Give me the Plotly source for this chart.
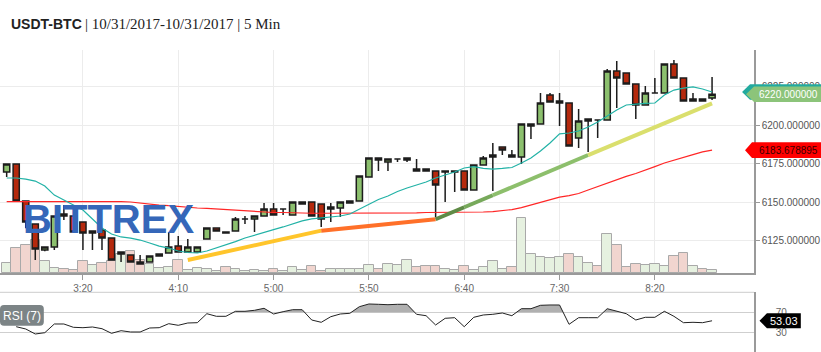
import plotly.graph_objects as go
import pandas as pd

DAY = "2017-10-31"
times = ["02:40", "02:45", "02:50", "02:55",
         "03:00", "03:05", "03:10", "03:15", "03:20", "03:25", "03:30", "03:35", "03:40", "03:45", "03:50", "03:55",
         "04:00", "04:05", "04:10", "04:15", "04:20", "04:25", "04:30", "04:35", "04:40", "04:45", "04:50", "04:55",
         "05:00", "05:05", "05:10", "05:15", "05:20", "05:25", "05:30", "05:35", "05:40", "05:45", "05:50", "05:55",
         "06:00", "06:05", "06:10", "06:15", "06:20", "06:25", "06:30", "06:35", "06:40", "06:45", "06:50", "06:55",
         "07:00", "07:05", "07:10", "07:15", "07:20", "07:25", "07:30", "07:35", "07:40", "07:45", "07:50", "07:55",
         "08:00", "08:05", "08:10", "08:15", "08:20", "08:25", "08:30", "08:35", "08:40", "08:45", "08:50"]
tick_times = ["03:20", "04:10", "05:00", "05:50", "06:40", "07:30", "08:20"]
tick_labels = ["3:20", "4:10", "5:00", "5:50", "6:40", "7:30", "8:20"]

opens = [6169.5, 6174.7, 6150.6, 6135.7, 6118.8, 6120.8, 6142.2, 6140.9, 6137.0, 6129.9,
         6131.8, 6126.6, 6117.5, 6115.6, 6111.0, 6111.0, 6114.9, 6116.9, 6121.4, 6117.5,
         6117.5, 6126.0, 6133.1, 6130.5, 6131.2, 6139.0, 6139.0, 6140.9, 6145.4, 6145.4,
         6141.6, 6148.7, 6150.0, 6148.7, 6146.7, 6146.1, 6149.3, 6150.6, 6166.2, 6178.6,
         6176.0, 6177.9, 6177.3, 6170.1, 6171.4, 6170.1, 6170.1, 6169.5, 6170.1, 6157.8,
         6174.0, 6179.2, 6185.7, 6180.5, 6179.2, 6199.4, 6200.6, 6219.5, 6215.6, 6214.3,
         6191.6, 6203.9, 6203.2, 6203.2, 6235.1, 6233.8, 6226.6, 6213.0, 6220.8, 6220.8,
         6239.6, 6230.5, 6215.6, 6216.9, 6217.5]
highs = [6174.7, 6175.0, 6150.6, 6135.7, 6120.8, 6140.9, 6148.0, 6140.9, 6137.0, 6131.2,
         6131.8, 6126.6, 6117.5, 6115.6, 6115.6, 6114.9, 6116.2, 6130.5, 6127.9, 6126.0,
         6120.8, 6133.1, 6133.1, 6130.5, 6140.3, 6140.9, 6140.9, 6149.3, 6149.3, 6145.4,
         6150.0, 6150.0, 6150.0, 6148.7, 6149.3, 6150.0, 6150.6, 6166.9, 6178.6, 6178.6,
         6177.9, 6177.9, 6178.6, 6177.9, 6171.4, 6170.1, 6170.1, 6170.1, 6170.1, 6174.0,
         6179.9, 6188.3, 6185.7, 6183.8, 6200.6, 6200.6, 6220.8, 6220.8, 6220.8, 6214.3,
         6210.4, 6203.9, 6203.2, 6236.4, 6241.6, 6233.8, 6226.6, 6225.3, 6230.5, 6239.6,
         6242.2, 6230.5, 6220.8, 6216.9, 6231.2]
lows = [6166.2, 6150.6, 6133.0, 6112.3, 6118.0, 6118.8, 6138.3, 6130.5, 6118.8, 6118.8,
        6118.8, 6112.3, 6111.0, 6111.0, 6109.7, 6111.0, 6114.9, 6116.9, 6117.5, 6117.5,
        6117.5, 6126.0, 6131.2, 6129.9, 6131.2, 6135.7, 6130.5, 6140.9, 6141.6, 6141.6,
        6141.6, 6148.7, 6140.9, 6133.8, 6137.0, 6140.3, 6149.3, 6150.6, 6166.2, 6170.1,
        6170.1, 6176.0, 6176.0, 6170.1, 6170.1, 6140.3, 6150.0, 6156.5, 6157.8, 6157.8,
        6174.0, 6157.1, 6180.5, 6179.2, 6174.7, 6190.9, 6200.6, 6214.9, 6199.4, 6186.4,
        6185.1, 6182.5, 6191.6, 6203.2, 6211.0, 6226.6, 6203.9, 6213.0, 6220.8, 6220.8,
        6230.5, 6215.6, 6215.6, 6215.6, 6216.2]
closes = [6174.7, 6150.6, 6137.0, 6119.5, 6120.8, 6140.9, 6140.9, 6130.5, 6129.9, 6131.2,
          6126.6, 6112.3, 6116.2, 6111.0, 6109.7, 6114.9, 6116.2, 6120.8, 6117.5, 6120.8,
          6120.8, 6133.1, 6131.2, 6129.9, 6139.0, 6139.0, 6140.9, 6145.4, 6141.6, 6145.4,
          6150.0, 6150.0, 6140.9, 6139.0, 6145.4, 6150.0, 6150.6, 6166.9, 6178.6, 6177.3,
          6177.9, 6177.9, 6178.6, 6171.4, 6170.1, 6161.0, 6169.5, 6170.1, 6157.8, 6174.0,
          6178.6, 6180.5, 6183.8, 6179.2, 6200.6, 6200.6, 6214.3, 6214.9, 6214.3, 6186.4,
          6202.6, 6202.6, 6203.2, 6235.1, 6230.5, 6226.6, 6213.0, 6220.8, 6220.8, 6239.6,
          6230.5, 6215.6, 6216.9, 6215.6, 6220.0]

ma_fast = [6165.6, 6165.6, 6164.9, 6163.6, 6160.4, 6154.5, 6151.3, 6148.0, 6144.8, 6139.0,
           6133.1, 6129.2, 6127.3, 6126.6, 6125.3, 6123.4, 6121.4, 6120.1, 6118.2, 6117.2,
           6116.9, 6118.2, 6120.1, 6122.1, 6124.3, 6126.6, 6128.6, 6130.5, 6132.1, 6133.8,
           6135.7, 6137.7, 6139.0, 6139.6, 6139.9, 6140.9, 6142.2, 6145.4, 6148.7, 6151.6,
           6153.9, 6156.8, 6159.1, 6161.0, 6163.0, 6165.6, 6167.5, 6169.5, 6172.1, 6173.0,
           6171.8, 6171.4, 6171.8, 6172.4, 6175.3, 6178.6, 6183.1, 6188.3, 6194.2, 6194.8,
           6196.1, 6198.7, 6201.9, 6205.8, 6209.7, 6213.0, 6213.6, 6214.0, 6214.3, 6219.5,
           6222.7, 6224.0, 6224.7, 6223.4, 6221.4]
ma_slow = [6150.3, 6150.3, 6150.5, 6150.5, 6150.6, 6150.6, 6150.6, 6150.6, 6150.6, 6150.6,
           6150.6, 6150.6, 6150.3, 6150.0, 6149.3, 6148.7, 6148.0, 6147.7, 6147.1, 6146.7,
           6146.1, 6145.8, 6145.4, 6145.1, 6144.8, 6144.1, 6143.8, 6143.5, 6143.2, 6143.2,
           6142.9, 6142.9, 6142.7, 6142.7, 6142.7, 6142.7, 6142.7, 6142.7, 6142.7, 6142.9,
           6142.9, 6142.9, 6142.9, 6143.0, 6143.2, 6143.2, 6143.3, 6143.4, 6143.5, 6143.5,
           6143.5, 6143.8, 6144.5, 6145.1, 6146.4, 6148.0, 6149.7, 6151.6, 6153.2, 6154.2,
           6155.5, 6157.8, 6160.1, 6162.3, 6164.6, 6166.6, 6168.5, 6170.5, 6173.0, 6175.3,
           6177.3, 6179.2, 6180.8, 6182.5, 6183.678895]

volumes = [10, 25, 27.7, 32.7, 11.7, 5, 3.7, 2.7, 11.7, 7.7,
           10, 11.7, 19.3, 21.7, 12.7, 9.3, 5, 6, 12.7, 2.7,
           5, 3.7, 1.7, 6, 4, 2.5, 2.7, 2, 4, 2,
           6, 2.7, 6.7, 2.3, 3.7, 3.7, 3.7, 3.7, 7.7, 3.7,
           9.3, 7.7, 13.3, 5.7, 6.7, 6.7, 3.7, 2.7, 6.7, 2.7,
           5.7, 11.7, 3.7, 5.7, 55.3, 18.7, 15.7, 14.7, 15.7, 18.7,
           15.7, 10.3, 6.7, 39.3, 27.7, 5.7, 9.3, 7.7, 8.7, 6.7,
           16.7, 19.7, 6.7, 4.3, 2.7]
volume_side = list("GRRRGGRRRG" "RRGRRGGGRG" "GGGRGGGGRG" "GGRRGGGGGR"
                   "GGGRRRGGRG" "GGGRGGGGGR" "GGRGRRRGGG" "RRGRG")

rsi = [None, 41.2, 36.6, 26.6, 29.2, 46.6, 46.6, 40.0, 39.2, 40.6,
       37.2, 28.0, 33.2, 30.6, 30.6, 38.6, 39.2, 47.2, 44.0, 48.6,
       49.2, 67.2, 62.0, 62.0, 72.0, 72.0, 74.0, 78.0, 66.6, 71.2,
       75.2, 75.2, 54.6, 50.0, 61.2, 66.6, 68.0, 81.2, 86.6, 86.0,
       85.2, 86.0, 86.0, 66.0, 63.2, 44.6, 58.0, 59.2, 41.2, 60.0,
       64.6, 66.0, 68.6, 63.2, 77.2, 77.2, 84.0, 84.6, 84.6, 46.0,
       59.2, 59.2, 59.2, 77.2, 72.0, 67.2, 54.6, 60.0, 60.0, 72.0,
       62.0, 49.2, 50.0, 49.2, 53.03]

trend_times = ["04:15", "05:25", "06:25", "06:40", "06:55", "07:45", "08:50"]
trend_prices = [6112.3, 6131.4, 6138.8, 6146.6, 6154.4, 6180.5, 6214.1]
trend_colors = ["#ffc52b", "#ff7029", "#5f8b46", "#77a95b", "#8dbf6c", "#dadf6d"]

price_ticks = [6125, 6150, 6175, 6200, 6225]
rsi_levels = [30, 70]

# ---------------------------------------------------------------- geometry
W, H = 821, 352
PW = 757                      # plot width in px (right margin 64)
MAIN_TOP, MAIN_BOT = 50, 273  # px
RSI_TOP = 292.3
PRICE_RANGE = [6103.9, 6248.7]
RSI_RANGE = [-9.4, 110]
VOL_RANGE = [0, 223]


def pxx(p):
    return p / PW


def pxy(p):
    return 1 - p / H


x = [f"{DAY} {t}" for t in times]
tx = [f"{DAY} {t}" for t in trend_times]

fig = go.Figure()

# volume
vol_fill = ["#e6f1e0" if s == "G" else "#f1d5cf" for s in volume_side]
fig.add_trace(go.Bar(x=x, y=volumes, xaxis="x", yaxis="y",
                     marker=dict(color=vol_fill, line=dict(color="#a9a9a9", width=1)),
                     hoverinfo="skip"))

# moving averages
fig.add_trace(go.Scatter(x=x, y=ma_slow, mode="lines", xaxis="x", yaxis="y2",
                         line=dict(color="#ff2626", width=1.2), hoverinfo="skip"))
fig.add_trace(go.Scatter(x=x, y=ma_fast, mode="lines", xaxis="x", yaxis="y2",
                         line=dict(color="#22b2a6", width=1.2), hoverinfo="skip"))

# trend line
for k in range(len(tx) - 1):
    fig.add_trace(go.Scatter(x=[tx[k], tx[k + 1]], y=[trend_prices[k], trend_prices[k + 1]],
                             mode="lines", xaxis="x", yaxis="y2",
                             line=dict(color=trend_colors[k], width=4), hoverinfo="skip"))

# candles
fig.add_trace(go.Candlestick(
    x=x, open=opens, high=highs, low=lows, close=closes, xaxis="x", yaxis="y2",
    increasing=dict(fillcolor="#8cc06e", line=dict(color="#1c1c1c", width=1.5)),
    decreasing=dict(fillcolor="#b5290d", line=dict(color="#1c1c1c", width=1.5)),
    hoverinfo="skip"))

# RSI with shaded overbought part
ts = pd.to_datetime(x)
pts = [(ts[i], v) for i, v in enumerate(rsi) if v is not None]
fx, fy = [], []
for k, (t, v) in enumerate(pts):
    if k > 0:
        t0, v0 = pts[k - 1]
        if (v0 - 70) * (v - 70) < 0:
            frac = (70 - v0) / (v - v0)
            fx.append(t0 + (t - t0) * frac)
            fy.append(70)
    fx.append(t)
    fy.append(max(v, 70))
fig.add_trace(go.Scatter(x=fx, y=[70] * len(fx), mode="lines", xaxis="x2", yaxis="y3",
                         line=dict(width=0), hoverinfo="skip"))
fig.add_trace(go.Scatter(x=fx, y=fy, mode="lines", xaxis="x2", yaxis="y3", fill="tonexty",
                         fillcolor="rgba(150,150,150,0.75)", line=dict(width=0), hoverinfo="skip"))
fig.add_trace(go.Scatter(x=x, y=rsi, mode="lines", xaxis="x2", yaxis="y3",
                         line=dict(color="#222222", width=1), hoverinfo="skip"))

main_dom = [pxy(MAIN_BOT), pxy(MAIN_TOP)]
rsi_dom = [0, pxy(RSI_TOP)]
x_range = [f"{DAY} 02:36:30", f"{DAY} 09:12:00"]

fig.update_layout(
    width=W, height=H, margin=dict(l=0, r=W - PW, t=0, b=0),
    paper_bgcolor="white", plot_bgcolor="white", showlegend=False,
    font=dict(family="Liberation Sans, Arial, sans-serif", size=10, color="#555"),
    bargap=0, boxgap=0.1, boxgroupgap=0.28, hovermode=False,
    xaxis=dict(type="date", domain=[0, 1], anchor="y", range=x_range,
               rangeslider=dict(visible=False), showgrid=True, gridcolor="#ececec",
               tickmode="array", tickvals=[f"{DAY} {t}" for t in tick_times],
               ticktext=tick_labels, ticks="outside", ticklen=5, tickcolor="#9a9a9a",
               showline=True, linecolor="#9a9a9a", linewidth=1.5, zeroline=False,
               tickfont=dict(size=10, color="#666")),
    yaxis=dict(domain=main_dom, range=VOL_RANGE, visible=False, showgrid=False),
    yaxis2=dict(overlaying="y", side="right", anchor="x", range=PRICE_RANGE,
                tickmode="array", tickvals=price_ticks, tickformat=".6f",
                showgrid=True, gridcolor="#ececec", zeroline=False,
                ticks="outside", ticklen=4, tickcolor="#9a9a9a",
                showline=True, linecolor="#9a9a9a", linewidth=1.5,
                tickfont=dict(size=10, color="#555")),
    xaxis2=dict(type="date", anchor="y3", matches="x", showticklabels=False,
                showgrid=False, showline=False, ticks="", zeroline=False,
                rangeslider=dict(visible=False)),
    yaxis3=dict(domain=rsi_dom, anchor="x2", side="right", range=RSI_RANGE,
                tickmode="array", tickvals=rsi_levels, ticktext=[str(v) for v in rsi_levels],
                showgrid=True, gridcolor="#cfcfcf", zeroline=False,
                showline=True, linecolor="#9a9a9a", linewidth=1.5, ticks="",
                ticklabelstandoff=18, tickfont=dict(size=10, color="#666")),
)

shapes = []
annotations = []

# RSI panel top border
shapes.append(dict(type="line", xref="paper", yref="paper", x0=0, x1=1,
                   y0=pxy(RSI_TOP), y1=pxy(RSI_TOP), line=dict(color="#cccccc", width=1)))

price_per_px = (PRICE_RANGE[1] - PRICE_RANGE[0]) / (MAIN_BOT - MAIN_TOP)
rsi_per_px = (RSI_RANGE[1] - RSI_RANGE[0]) / (H - RSI_TOP)


def tag(yc, hh, apex, body, right, fill, yref):
    a, b, r = pxx(apex), pxx(body), pxx(right)
    path = (f"M{a},{yc} L{b},{yc + hh} L{r},{yc + hh} "
            f"L{r},{yc - hh} L{b},{yc - hh} Z")
    return dict(type="path", xref="paper", yref=yref, path=path,
                fillcolor=fill, line=dict(width=0), layer="above")


hh_p = 7.8 * price_per_px
shapes.append(tag(ma_fast[-1], hh_p, 745, 753, 830, "#22aa9e", "y2"))
shapes.append(tag(closes[-1], hh_p, 749, 757, 830, "#8cc47a", "y2"))
shapes.append(tag(ma_slow[-1], hh_p, 748, 755, 830, "#ff0000", "y2"))
shapes.append(tag(rsi[-1], 7.5 * rsi_per_px, 762.5, 770, 804, "#000000", "y3"))

annotations.append(dict(xref="paper", yref="y2", x=pxx(760), y=closes[-1],
                        xanchor="left", yanchor="middle", showarrow=False,
                        text=f"{closes[-1]:.6f}", font=dict(size=10, color="white")))
annotations.append(dict(xref="paper", yref="y2", x=pxx(760), y=ma_slow[-1],
                        xanchor="left", yanchor="middle", showarrow=False,
                        text=f"{ma_slow[-1]:.6f}", font=dict(size=10, color="#3a0000")))
annotations.append(dict(xref="paper", yref="y3", x=pxx(787), y=rsi[-1],
                        xanchor="center", yanchor="middle", showarrow=False,
                        text=f"{rsi[-1]:.2f}", font=dict(size=11, color="white")))

# RSI (7) label box
x0, x1, y0, y1, rr = 0, 44, 305, 325.7, 4
X0, X1, Xr0, Xr1 = pxx(x0), pxx(x1), pxx(x0 + rr), pxx(x1 - rr)
Y0, Y1, Yr0, Yr1 = pxy(y0), pxy(y1), pxy(y0 + rr), pxy(y1 - rr)
box = (f"M{Xr0},{Y0} L{Xr1},{Y0} Q{X1},{Y0} {X1},{Yr0} L{X1},{Yr1} Q{X1},{Y1} {Xr1},{Y1} "
       f"L{Xr0},{Y1} Q{X0},{Y1} {X0},{Yr1} L{X0},{Yr0} Q{X0},{Y0} {Xr0},{Y0} Z")
shapes.append(dict(type="path", xref="paper", yref="paper", path=box,
                   fillcolor="#7c8486", line=dict(width=0), layer="above"))
annotations.append(dict(xref="paper", yref="paper", x=pxx(22), y=pxy(315.5),
                        xanchor="center", yanchor="middle", showarrow=False,
                        text="RSI (7)", font=dict(size=12, color="white")))

# watermark
annotations.append(dict(xref="paper", yref="paper", x=pxx(109), y=pxy(219),
                        xanchor="center", yanchor="middle", showarrow=False,
                        text="<b>BITTREX</b>",
                        font=dict(size=40, color="#3567b9",
                                  family="Liberation Sans, Arial, sans-serif")))

# title
annotations.append(dict(xref="paper", yref="paper", x=pxx(9), y=pxy(24),
                        xanchor="left", yanchor="middle", showarrow=False,
                        text="<b>USDT-BTC</b>",
                        font=dict(size=14, color="#222",
                                  family="Liberation Sans, Arial, sans-serif")))
annotations.append(dict(xref="paper", yref="paper", x=pxx(83), y=pxy(24),
                        xanchor="left", yanchor="middle", showarrow=False,
                        text="| 10/31/2017-10/31/2017 | 5 Min",
                        font=dict(size=15, color="#222",
                                  family="Liberation Serif, Times New Roman, serif")))

fig.update_layout(shapes=shapes, annotations=annotations)
fig.write_html("out.html")
